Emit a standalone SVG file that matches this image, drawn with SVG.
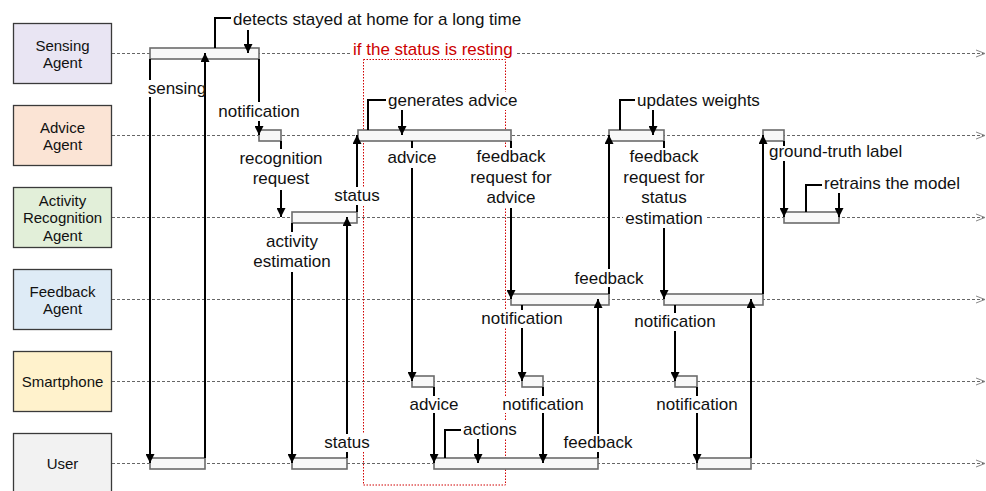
<svg xmlns="http://www.w3.org/2000/svg" width="986" height="491" viewBox="0 0 986 491">
<defs>
<style>
.actor{stroke:#3a3a3a;stroke-width:1.3}
.at{font-family:"Liberation Sans",Arial,sans-serif;font-size:15px;fill:#111;text-anchor:middle}
.life{stroke:#666;stroke-width:1;stroke-dasharray:3 2;fill:none}
.lend{stroke:#888;stroke-width:1;fill:none}
.bar{fill:#f8f8f8;stroke:#6b6b6b;stroke-width:1.6}
.msg{stroke:#000;stroke-width:2;fill:none;marker-end:url(#ah)}
.lb{font-family:"Liberation Sans",Arial,sans-serif;font-size:17px;fill:#111;text-anchor:middle}
.ls{text-anchor:start}
.bg{fill:#fff}
</style>
<marker id="ah" viewBox="0 0 10 10" refX="10" refY="5" markerWidth="9" markerHeight="9" markerUnits="userSpaceOnUse" orient="auto">
<path d="M0,0 L10,5 L0,10 z" fill="#000"/>
</marker>
</defs>
<rect width="986" height="491" fill="#fff"/>

<g id="lifelines">
<path class="life" d="M112,53.5 H985 M112,135.5 H985 M112,217.5 H985 M112,299.5 H985 M112,381.5 H985 M112,463.5 H985"/>
<path class="lend" d="M976,50 L985,53.5 L976,57 M976,132 L985,135.5 L976,139 M976,214 L985,217.5 L976,221 M976,296 L985,299.5 L976,303 M976,378 L985,381.5 L976,385 M976,460 L985,463.5 L976,467"/>
</g>

<g id="actor-sensing"><rect class="actor" x="13.5" y="23.5" width="98" height="60" fill="#e9e5f3"/><text class="at" x="62.5" y="50.5">Sensing</text><text class="at" x="62.5" y="68">Agent</text></g>
<g id="actor-advice"><rect class="actor" x="13.5" y="105.5" width="98" height="60" fill="#fbe4d5"/><text class="at" x="62.5" y="132.5">Advice</text><text class="at" x="62.5" y="150">Agent</text></g>
<g id="actor-activity"><rect class="actor" x="13.5" y="187.5" width="98" height="60" fill="#e2efd9"/><text class="at" x="62.5" y="205.5">Activity</text><text class="at" x="62.5" y="223">Recognition</text><text class="at" x="62.5" y="240.5">Agent</text></g>
<g id="actor-feedback"><rect class="actor" x="13.5" y="269.5" width="98" height="60" fill="#deebf6"/><text class="at" x="62.5" y="296.5">Feedback</text><text class="at" x="62.5" y="314">Agent</text></g>
<g id="actor-smartphone"><rect class="actor" x="13.5" y="351.5" width="98" height="60" fill="#fff2cc"/><text class="at" x="62.5" y="386.5">Smartphone</text></g>
<g id="actor-user"><rect class="actor" x="13.5" y="433.5" width="98" height="60" fill="#f2f2f2"/><text class="at" x="62.5" y="469">User</text></g>

<g id="condition-frame">
<rect x="363.5" y="59.5" width="142" height="425.5" fill="none" stroke="#d00000" stroke-width="1" stroke-dasharray="1.5 1.5"/>
</g>

<g id="activations">
<rect class="bar" x="150" y="48" width="109" height="11"/>
<rect class="bar" x="259" y="130" width="22" height="11"/>
<rect class="bar" x="292" y="212" width="65" height="11"/>
<rect class="bar" x="150" y="458" width="55" height="11"/>
<rect class="bar" x="292" y="458" width="55" height="11"/>
<rect class="bar" x="358" y="130" width="153" height="11"/>
<rect class="bar" x="412" y="376" width="22" height="11"/>
<rect class="bar" x="434" y="458" width="164" height="11"/>
<rect class="bar" x="511" y="294" width="98" height="11"/>
<rect class="bar" x="522" y="376" width="21" height="11"/>
<rect class="bar" x="609" y="130" width="55" height="11"/>
<rect class="bar" x="664" y="294" width="99" height="11"/>
<rect class="bar" x="675" y="376" width="22" height="11"/>
<rect class="bar" x="697" y="458" width="54" height="11"/>
<rect class="bar" x="763" y="130" width="21" height="11"/>
<rect class="bar" x="784" y="212" width="55" height="11"/>
</g>

<g id="connectors">
<path class="msg" d="M150,59 V463"/>
<path class="msg" d="M205,458 V53"/>
<path class="msg" d="M215,48 V18 H248 V53"/>
<path class="msg" d="M259,59 V135"/>
<path class="msg" d="M281,141 V217"/>
<path class="msg" d="M357,212 V135"/>
<path class="msg" d="M292,223 V463"/>
<path class="msg" d="M347,458 V217"/>
<path class="msg" d="M368,130 V100 H402 V135"/>
<path class="msg" d="M412,141 V381"/>
<path class="msg" d="M511,141 V299"/>
<path class="msg" d="M434,387 V463"/>
<path class="msg" d="M445,458 V430 H478 V463"/>
<path class="msg" d="M522,305 V381"/>
<path class="msg" d="M543,387 V463"/>
<path class="msg" d="M598,458 V299"/>
<path class="msg" d="M609,294 V135"/>
<path class="msg" d="M620,130 V100 H653 V135"/>
<path class="msg" d="M664,141 V299"/>
<path class="msg" d="M675,305 V381"/>
<path class="msg" d="M697,387 V463"/>
<path class="msg" d="M751,458 V299"/>
<path class="msg" d="M763,294 V135"/>
<path class="msg" d="M784,141 V217"/>
<path class="msg" d="M806,212 V185 H839 V217"/>
</g>

<g id="labels">
<rect class="bg" x="231" y="10" width="298" height="20"/>
<text class="lb ls" x="233" y="25">detects stayed at home for a long time</text>
<rect class="bg" x="351" y="40" width="166" height="18"/>
<text class="lb ls" x="353" y="55" fill="#cc0000" style="fill:#cc0000">if the status is resting</text>
<rect class="bg" x="147" y="80" width="56" height="17"/>
<text class="lb" x="177" y="94">sensing</text>
<rect class="bg" x="217" y="102" width="84" height="19"/>
<text class="lb" x="259" y="117">notification</text>
<rect class="bg" x="238" y="149" width="86" height="41"/>
<text class="lb" x="281" y="164">recognition</text>
<text class="lb" x="281" y="184">request</text>
<rect class="bg" x="253" y="232" width="78" height="40"/>
<text class="lb" x="292" y="247">activity</text>
<text class="lb" x="292" y="267">estimation</text>
<rect class="bg" x="334" y="187" width="46" height="18"/>
<text class="lb" x="357" y="201">status</text>
<rect class="bg" x="386" y="92" width="134" height="18"/>
<text class="lb ls" x="388" y="106">generates advice</text>
<rect class="bg" x="388" y="148" width="49" height="20"/>
<text class="lb" x="412" y="163">advice</text>
<rect class="bg" x="470" y="148" width="82" height="60"/>
<text class="lb" x="511" y="162">feedback</text>
<text class="lb" x="511" y="182.5">request for</text>
<text class="lb" x="511" y="203">advice</text>
<rect class="bg" x="635" y="92" width="128" height="18"/>
<text class="lb ls" x="637" y="106">updates weights</text>
<rect class="bg" x="623" y="148" width="82" height="80"/>
<text class="lb" x="664" y="162">feedback</text>
<text class="lb" x="664" y="182.5">request for</text>
<text class="lb" x="664" y="203">status</text>
<text class="lb" x="664" y="223.5">estimation</text>
<rect class="bg" x="767" y="146" width="138" height="15"/>
<text class="lb ls" x="769" y="157">ground-truth label</text>
<rect class="bg" x="822" y="175" width="142" height="18"/>
<text class="lb ls" x="824" y="188.5">retrains the model</text>
<rect class="bg" x="574" y="269" width="70" height="18"/>
<text class="lb" x="609" y="283.5">feedback</text>
<rect class="bg" x="481" y="310" width="82" height="18"/>
<text class="lb" x="522" y="324">notification</text>
<rect class="bg" x="634" y="313" width="82" height="18"/>
<text class="lb" x="675" y="327">notification</text>
<rect class="bg" x="409" y="396" width="50" height="17"/>
<text class="lb" x="434" y="409.5">advice</text>
<rect class="bg" x="502" y="396" width="82" height="17"/>
<text class="lb" x="543" y="409.5">notification</text>
<rect class="bg" x="656" y="396" width="82" height="17"/>
<text class="lb" x="697" y="409.5">notification</text>
<rect class="bg" x="461" y="421" width="57" height="18"/>
<text class="lb ls" x="463" y="435">actions</text>
<rect class="bg" x="324" y="434" width="46" height="18"/>
<text class="lb" x="347" y="448">status</text>
<rect class="bg" x="563" y="434" width="70" height="18"/>
<text class="lb" x="598" y="448">feedback</text>
</g>
</svg>
